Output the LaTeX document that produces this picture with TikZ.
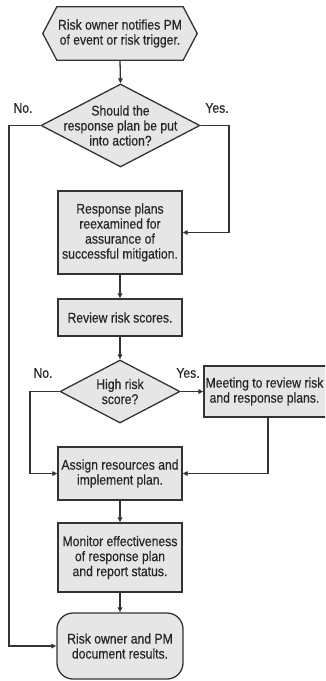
\documentclass[tikz,border=0pt]{standalone}
\usepackage{fontspec}
\setmainfont{Liberation Sans}[FakeStretch=0.87,FakeBold=0.4]
\usetikzlibrary{shapes.geometric,arrows.meta,backgrounds}
\definecolor{boxfill}{HTML}{E6E6E6}
\definecolor{linec}{HTML}{333333}
\definecolor{txtc}{HTML}{262626}
\tikzset{
  txt/.style={font=\fontsize{14}{15}\selectfont, align=center, text=txtc},
  procbox/.style={txt, rectangle, draw=linec, fill=boxfill, line width=1.3pt, inner sep=0pt, minimum width=124pt},
  decbox/.style={diamond, draw=linec, fill=boxfill, line width=1.3pt, inner sep=0pt},
  conn/.style={draw=linec, line width=1.3pt, -{Triangle[length=5pt,width=4.5pt]}},
  lbl/.style={txt}
}
\begin{document}
\begin{tikzpicture}[x=1pt,y=-1pt]
\useasboundingbox (0,0) rectangle (325,681);
\clip (0,0) rectangle (325,681);
% start hexagon
\node[txt, rectangle, inner sep=0pt, minimum width=126pt, minimum height=53pt] (start) at (120,33.5)
  {Risk owner notifies PM\\of event or risk trigger.};
\begin{scope}[on background layer]
\draw[draw=linec, fill=boxfill, line width=1.3pt, line join=miter]
  (start.north west) -- (start.north east) -- ([xshift=14pt]start.east)
  -- (start.south east) -- (start.south west) -- ([xshift=-14pt]start.west) -- cycle;
\end{scope}
% decision 1
\node[decbox, minimum width=159pt, minimum height=83pt] (d1) at (120.5,125.5) {};
\node[txt] (d1t) at (120.5,125.5) {Should the\\response plan be put\\into action?};
% boxes
\node[procbox, minimum height=83pt] (b1) at (120,232.5)
  {Response plans\\reexamined for\\assurance of\\successful mitigation.};
\node[procbox, minimum height=37pt] (b2) at (120,317.5) {Review risk scores.};
\node[decbox, minimum width=120pt, minimum height=63pt] (d2) at (120,391.5) {};
\node[txt] (d2t) at (120,391.5) {High risk\\score?};
\node[procbox, minimum width=128pt, minimum height=51pt] (meet) at (268,391.5) {};
\node[txt] (meett) at (264.5,391.5) {Meeting to review risk\\and response plans.};
\node[procbox, minimum height=53pt] (assign) at (120,473.5)
  {Assign resources and\\implement plan.};
\node[procbox, minimum height=69pt] (mon) at (120,557.5)
  {Monitor effectiveness\\of response plan\\and report status.};
\node[procbox, minimum width=126pt, minimum height=66pt, rounded corners=16pt] (fin) at (120,646)
  {Risk owner and PM\\document results.};
% labels
\node[lbl] (no1) at (23,108) {No.};
\node[lbl] (yes1) at (217,108) {Yes.};
\node[lbl] (no2) at (43,373) {No.};
\node[lbl] (yes2) at (188,373) {Yes.};
% connectors
\coordinate (l1) at (9,125.5);
\coordinate (r1) at (229,125.5);
\coordinate (l2) at (30,391.5);
\path[conn] (start.south) -- (d1.north);
\path[conn] (d1.west) -- (l1) |- (fin.west);
\path[conn] (d1.east) -- (r1) |- (b1.east);
\path[conn] (b1.south) -- (b2.north);
\path[conn] (b2.south) -- (d2.north);
\path[conn] (d2.east) -- (meet.west);
\path[conn] (meet.south) |- (assign.east);
\path[conn] (d2.west) -- (l2) |- (assign.west);
\path[conn] (assign.south) -- (mon.north);
\path[conn] (mon.south) -- (fin.north);
\end{tikzpicture}
\end{document}
